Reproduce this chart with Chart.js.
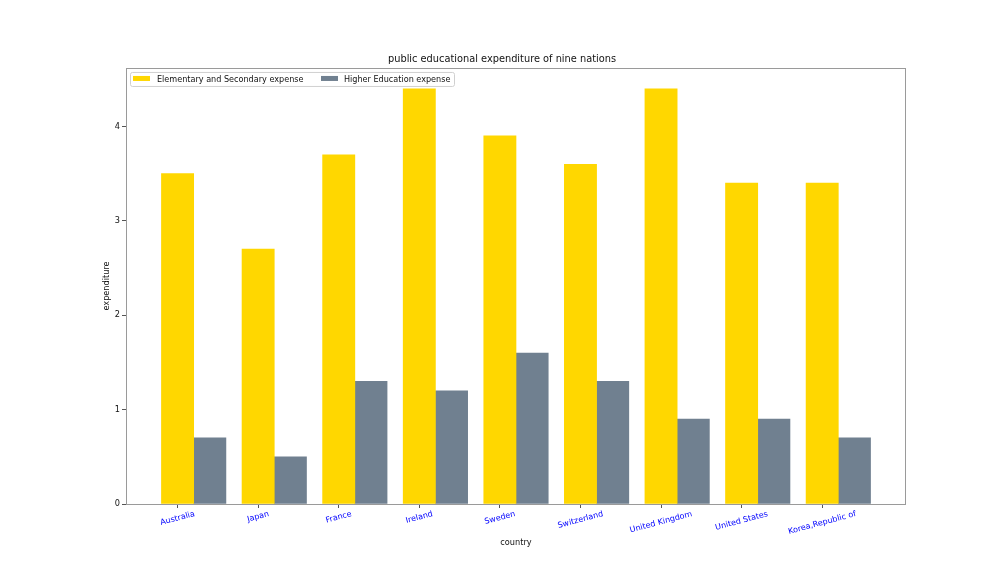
<!DOCTYPE html>
<html>
<head>
<meta charset="utf-8">
<script src="https://cdn.jsdelivr.net/npm/chart.js@4/dist/chart.umd.min.js"></script>
<style>
  html, body { margin: 0; padding: 0; background: #fff; }
  #wrap { width: 1006px; height: 566px; }
</style>
</head>
<body>
<div id="wrap"><canvas id="eduChart" width="1006" height="566"></canvas></div>
<script>
// values
const countries = ['Australia', 'Japan', 'France', 'Ireland', 'Sweden', 'Switzerland', 'United Kingdom', 'United States', 'Korea,Republic of'];
const elementaryExpense = [3.5, 2.7, 3.7, 4.4, 3.9, 3.6, 4.4, 3.4, 3.4];
const higherExpense = [0.7, 0.5, 1.3, 1.2, 1.6, 1.3, 0.9, 0.9, 0.7];
const yTicks = [0, 1, 2, 3, 4];

const FONT = 'DejaVu Sans';
const GOLD = '#FFD700';
const SLATE = '#708090';

// the bars of the second series sit 0.4 to the right of the first
const BAR_SHIFT = 0.4;

// frame, rotated country labels and the inside legend
const extrasPlugin = {
    id: 'extras',
    afterDraw(chart) {
        const ctx = chart.ctx;
        const area = chart.chartArea;
        const xScale = chart.scales.x;

        ctx.save();
        ctx.strokeStyle = '#9a9a9a';
        ctx.lineWidth = 1;
        ctx.strokeRect(Math.round(area.left) + 0.5, Math.round(area.top) + 0.5,
            Math.round(area.right - area.left) - 1, Math.round(area.bottom - area.top));

        // country labels, rotated 15 degrees and centred on each tick
        ctx.font = '8px "' + FONT + '"';
        ctx.fillStyle = 'blue';
        ctx.textAlign = 'center';
        ctx.textBaseline = 'middle';
        const rot = 15 * Math.PI / 180;
        countries.forEach((name, i) => {
            const px = xScale.getPixelForValue(i);
            const w = ctx.measureText(name).width;
            const h = 8;
            const boxH = w * Math.sin(rot) + h * Math.cos(rot);
            const cy = area.bottom + 6 + boxH / 2;
            ctx.save();
            ctx.translate(px, cy);
            ctx.rotate(-rot);
            ctx.fillText(name, 0, 0);
            ctx.restore();
        });

        // legend box in the upper left of the plot
        const lx = area.left + 4;
        const ly = area.top + 4;
        ctx.fillStyle = 'rgba(255,255,255,0.8)';
        ctx.strokeStyle = '#d0d0d0';
        ctx.beginPath();
        ctx.roundRect(lx + 0.5, ly + 0.5, 324, 14, 2);
        ctx.fill();
        ctx.stroke();

        ctx.font = '8.1px "' + FONT + '"';
        ctx.textAlign = 'left';
        ctx.fillStyle = GOLD;
        ctx.fillRect(lx + 3, ly + 4, 17, 5);
        ctx.fillStyle = '#111';
        ctx.fillText('Elementary and Secondary expense', lx + 27, ly + 7.5);
        ctx.fillStyle = SLATE;
        ctx.fillRect(lx + 191, ly + 4, 17, 5);
        ctx.fillStyle = '#111';
        ctx.fillText('Higher Education expense', lx + 214, ly + 7.5);
        ctx.restore();
    }
};

new Chart(document.getElementById('eduChart'), {
    type: 'bar',
    data: {
        datasets: [
            {
                label: 'Elementary and Secondary expense',
                data: elementaryExpense.map((v, i) => ({ x: i, y: v })),
                backgroundColor: GOLD,
                borderWidth: 0,
                grouped: false,
                barPercentage: 1,
                categoryPercentage: 1
            },
            {
                label: 'Higher Education expense',
                data: higherExpense.map((v, i) => ({ x: i + BAR_SHIFT, y: v })),
                backgroundColor: SLATE,
                borderWidth: 0,
                grouped: false,
                barPercentage: 1,
                categoryPercentage: 1
            }
        ]
    },
    options: {
        responsive: false,
        animation: false,
        layout: { padding: { left: 98, right: 100, top: 0, bottom: 14 } },
        plugins: {
            legend: { display: false },
            tooltip: { enabled: false },
            title: {
                display: true,
                text: 'public educational expenditure of nine nations',
                color: '#111',
                font: { family: FONT, size: 9.8, weight: 'normal' },
                padding: { top: 53.6, bottom: 2.6 }
            }
        },
        scales: {
            x: {
                type: 'linear',
                offset: false,
                min: -0.64,
                max: 9.04,
                afterBuildTicks: (scale) => {
                    scale.ticks = countries.map((c, i) => ({ value: i }));
                },
                afterFit: (scale) => { scale.height = 48; },
                ticks: { display: false },
                grid: { offset: false, drawOnChartArea: false, drawTicks: true, tickLength: 4, color: '#555' },
                border: { display: false },
                title: {
                    display: true,
                    text: 'country',
                    color: '#111',
                    font: { family: FONT, size: 8.2 },
                    padding: 4
                }
            },
            y: {
                min: 0,
                max: 4.62,
                afterBuildTicks: (scale) => {
                    scale.ticks = yTicks.map(v => ({ value: v }));
                },
                afterFit: (scale) => { scale.width = 28; },
                ticks: {
                    color: '#111',
                    font: { family: FONT, size: 8.2 },
                    padding: 2
                },
                grid: { drawOnChartArea: false, drawTicks: true, tickLength: 4, color: '#555' },
                border: { display: false },
                title: {
                    display: true,
                    text: 'expenditure',
                    color: '#111',
                    font: { family: FONT, size: 8.2 },
                    padding: 4
                }
            }
        }
    },
    plugins: [extrasPlugin]
});
</script>
</body>
</html>
